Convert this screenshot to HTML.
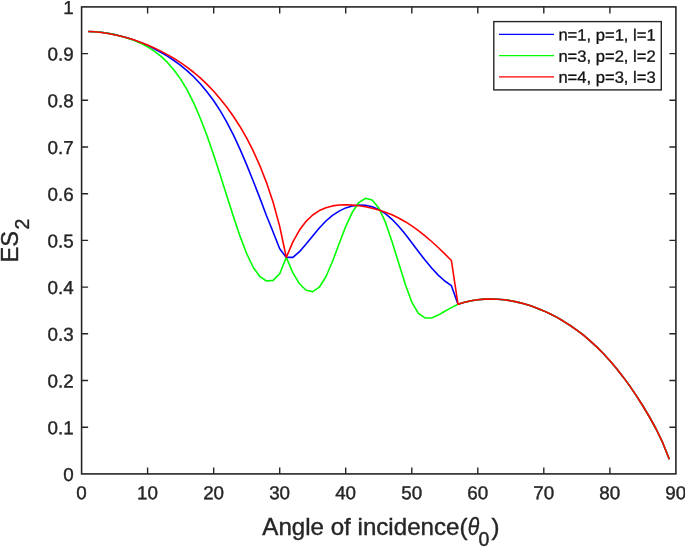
<!DOCTYPE html>
<html><head><meta charset="utf-8"><title>ES2 vs angle of incidence</title>
<style>html,body{margin:0;padding:0;background:#fff}body{width:685px;height:547px;overflow:hidden}</style></head>
<body>
<svg width="685" height="547" viewBox="0 0 685 547" style="display:block">
<rect width="685" height="547" fill="#fff"/>
<polyline fill="none" stroke="#0000ff" stroke-width="1.6" stroke-linejoin="round" points="88.2,31.5 94.8,31.7 101.4,32.3 108.0,33.3 114.6,34.6 121.2,36.2 127.8,38.1 134.4,40.3 141.0,42.8 147.6,45.6 154.2,48.7 160.8,52.2 167.4,56.1 174.0,60.5 180.6,65.3 187.3,70.8 193.9,77.0 200.5,84.0 207.1,91.9 213.7,100.8 220.3,110.9 226.9,122.3 233.5,135.1 240.1,149.4 246.7,164.9 253.3,181.3 259.9,198.1 266.5,215.8 273.1,232.0 279.7,248.7 286.3,257.4 292.9,257.4 299.5,251.7 306.1,244.1 312.7,235.9 319.3,228.0 325.9,221.0 332.5,215.4 339.1,211.1 345.7,207.9 352.3,205.9 358.9,205.1 365.5,205.3 372.1,206.8 378.8,209.5 385.4,213.7 392.0,219.3 398.6,226.2 405.2,234.1 411.8,242.7 418.4,251.5 425.0,260.1 431.6,268.0 438.2,275.1 444.8,281.0 451.4,285.7 458.0,304.3 464.6,302.3 471.2,300.8 477.8,299.8 484.4,299.1 491.0,299.0 497.6,299.2 504.2,299.8 510.8,300.7 517.4,302.1 524.0,303.7 530.6,305.8 537.2,308.2 543.8,310.9 550.4,314.0 557.0,317.4 563.6,321.3 570.2,325.5 576.8,330.1 583.5,335.2 590.1,340.8 596.7,346.9 603.3,353.5 609.9,360.7 616.5,368.5 623.1,376.9 629.7,385.9 636.3,395.6 642.9,406.0 649.5,417.0 656.1,429.0 662.7,442.7 669.3,459.3"/>
<polyline fill="none" stroke="#00ff00" stroke-width="1.6" stroke-linejoin="round" points="88.2,31.5 94.8,31.7 101.4,32.3 108.0,33.3 114.6,34.6 121.2,36.2 127.8,38.2 134.4,40.6 141.0,43.4 147.6,46.9 154.2,51.1 160.8,56.2 167.4,62.4 174.0,70.0 180.6,79.1 187.3,90.2 193.9,103.4 200.5,118.7 207.1,136.0 213.7,155.0 220.3,175.3 226.9,196.2 233.5,216.8 240.1,236.4 246.7,253.7 253.3,267.5 259.9,276.7 266.5,281.0 273.1,280.4 279.7,273.7 286.3,257.4 292.9,272.9 299.5,283.8 306.1,290.2 312.7,291.6 319.3,287.2 325.9,276.8 332.5,261.5 339.1,243.8 345.7,226.6 352.3,212.3 358.9,202.5 365.5,198.3 372.1,200.1 378.8,207.9 385.4,222.2 392.0,241.6 398.6,262.8 405.2,284.1 411.8,302.2 418.4,313.3 425.0,317.9 431.6,318.0 438.2,315.1 444.8,311.2 451.4,307.6 458.0,304.3 464.6,302.3 471.2,300.8 477.8,299.8 484.4,299.1 491.0,299.0 497.6,299.2 504.2,299.8 510.8,300.7 517.4,302.1 524.0,303.7 530.6,305.8 537.2,308.2 543.8,310.9 550.4,314.0 557.0,317.4 563.6,321.3 570.2,325.5 576.8,330.1 583.5,335.2 590.1,340.8 596.7,346.9 603.3,353.5 609.9,360.7 616.5,368.5 623.1,376.9 629.7,385.9 636.3,395.6 642.9,406.0 649.5,417.0 656.1,429.0 662.7,442.7 669.3,459.3"/>
<polyline fill="none" stroke="#ff0000" stroke-width="1.6" stroke-linejoin="round" points="88.2,31.5 94.8,31.8 101.4,32.5 108.0,33.5 114.6,34.8 121.2,36.3 127.8,38.1 134.4,40.1 141.0,42.5 147.6,45.0 154.2,47.9 160.8,51.1 167.4,54.6 174.0,58.4 180.6,62.7 187.3,67.3 193.9,72.5 200.5,78.2 207.1,84.4 213.7,91.3 220.3,98.9 226.9,107.3 233.5,116.5 240.1,126.7 246.7,138.2 253.3,151.1 259.9,165.8 266.5,182.6 273.1,202.2 279.7,226.4 286.3,257.4 292.9,241.9 299.5,230.1 306.1,221.3 312.7,215.0 319.3,210.6 325.9,207.7 332.5,205.9 339.1,205.0 345.7,204.8 352.3,205.1 358.9,205.8 365.5,206.8 372.1,208.2 378.8,210.0 385.4,212.2 392.0,214.8 398.6,218.0 405.2,221.7 411.8,225.9 418.4,230.6 425.0,235.8 431.6,241.5 438.2,247.5 444.8,253.9 451.4,260.5 458.0,304.3 464.6,302.3 471.2,300.8 477.8,299.8 484.4,299.1 491.0,299.0 497.6,299.2 504.2,299.8 510.8,300.7 517.4,302.1 524.0,303.7 530.6,305.8 537.2,308.2 543.8,310.9 550.4,314.0 557.0,317.4 563.6,321.3 570.2,325.5 576.8,330.1 583.5,335.2 590.1,340.8 596.7,346.9 603.3,353.5 609.9,360.7 616.5,368.5 623.1,376.9 629.7,385.9 636.3,395.6 642.9,406.0 649.5,417.0 656.1,429.0 662.7,442.7 669.3,459.3"/>
<rect x="81.6" y="6.9" width="594.3" height="467.0" fill="none" stroke="#262626" stroke-width="1.6"/>
<path d="M147.6 473.9v-6.5M147.6 6.9v6.5M213.7 473.9v-6.5M213.7 6.9v6.5M279.7 473.9v-6.5M279.7 6.9v6.5M345.7 473.9v-6.5M345.7 6.9v6.5M411.8 473.9v-6.5M411.8 6.9v6.5M477.8 473.9v-6.5M477.8 6.9v6.5M543.8 473.9v-6.5M543.8 6.9v6.5M609.9 473.9v-6.5M609.9 6.9v6.5M81.6 427.2h6.5M675.9 427.2h-6.5M81.6 380.5h6.5M675.9 380.5h-6.5M81.6 333.8h6.5M675.9 333.8h-6.5M81.6 287.1h6.5M675.9 287.1h-6.5M81.6 240.4h6.5M675.9 240.4h-6.5M81.6 193.7h6.5M675.9 193.7h-6.5M81.6 147.0h6.5M675.9 147.0h-6.5M81.6 100.3h6.5M675.9 100.3h-6.5M81.6 53.6h6.5M675.9 53.6h-6.5" stroke="#262626" stroke-width="1.4" fill="none"/>
<g font-family="'Liberation Sans', sans-serif" font-size="18.8" fill="#262626" stroke="#262626" stroke-width="0.40">
<text x="81.5" y="499.2" text-anchor="middle" transform="rotate(0.03 81.6 499)">0</text>
<text x="147.5" y="499.2" text-anchor="middle" transform="rotate(0.03 147.6 499)">10</text>
<text x="213.6" y="499.2" text-anchor="middle" transform="rotate(0.03 213.7 499)">20</text>
<text x="279.6" y="499.2" text-anchor="middle" transform="rotate(0.03 279.7 499)">30</text>
<text x="345.6" y="499.2" text-anchor="middle" transform="rotate(0.03 345.7 499)">40</text>
<text x="411.7" y="499.2" text-anchor="middle" transform="rotate(0.03 411.8 499)">50</text>
<text x="477.7" y="499.2" text-anchor="middle" transform="rotate(0.03 477.8 499)">60</text>
<text x="543.7" y="499.2" text-anchor="middle" transform="rotate(0.03 543.8 499)">70</text>
<text x="609.8" y="499.2" text-anchor="middle" transform="rotate(0.03 609.9 499)">80</text>
<text x="675.8" y="499.2" text-anchor="middle" transform="rotate(0.03 675.9 499)">90</text>
<text x="73.6" y="480.9" text-anchor="end" transform="rotate(0.03 73 480.9)">0</text>
<text x="73.6" y="434.2" text-anchor="end" transform="rotate(0.03 73 434.2)">0.1</text>
<text x="73.6" y="387.5" text-anchor="end" transform="rotate(0.03 73 387.5)">0.2</text>
<text x="73.6" y="340.8" text-anchor="end" transform="rotate(0.03 73 340.8)">0.3</text>
<text x="73.6" y="294.1" text-anchor="end" transform="rotate(0.03 73 294.1)">0.4</text>
<text x="73.6" y="247.4" text-anchor="end" transform="rotate(0.03 73 247.4)">0.5</text>
<text x="73.6" y="200.7" text-anchor="end" transform="rotate(0.03 73 200.7)">0.6</text>
<text x="73.6" y="154.0" text-anchor="end" transform="rotate(0.03 73 154.0)">0.7</text>
<text x="73.6" y="107.3" text-anchor="end" transform="rotate(0.03 73 107.3)">0.8</text>
<text x="73.6" y="60.6" text-anchor="end" transform="rotate(0.03 73 60.6)">0.9</text>
<text x="73.6" y="13.9" text-anchor="end" transform="rotate(0.03 73 13.9)">1</text>
</g>
<g font-family="'Liberation Sans', sans-serif" fill="#262626" stroke="#262626" stroke-width="0.40">
<g transform="rotate(0.02 380 534)">
<text x="262.3" y="534.7" font-size="24" textLength="205.2" lengthAdjust="spacingAndGlyphs">Angle of incidence(</text>
<text x="467.8" y="534.7" font-size="24" font-style="italic" textLength="11.5" lengthAdjust="spacingAndGlyphs">θ</text>
<text x="478.6" y="546.1" font-size="19.5">0</text>
<text x="491.5" y="534.6" font-size="24">)</text>
</g>
<g transform="translate(17.9,262.4) rotate(-90)"><text x="0" y="0" font-size="23.8" textLength="31.5" lengthAdjust="spacingAndGlyphs">ES</text><text x="32.9" y="11.2" font-size="19.5">2</text></g>
</g>
<rect x="493.8" y="21.6" width="167.5" height="68.3" fill="#fff" stroke="#262626" stroke-width="1.4"/>
<line x1="499" x2="554" y1="34.4" y2="34.4" stroke="#0000ff" stroke-width="1.3"/>
<line x1="499" x2="554" y1="55.6" y2="55.6" stroke="#00ff00" stroke-width="1.3"/>
<line x1="499" x2="554" y1="76.9" y2="76.9" stroke="#ff0000" stroke-width="1.3"/>
<g font-family="'Liberation Sans', sans-serif" font-size="16.3" fill="#111" stroke="#111" stroke-width="0.3">
<text x="558.4" y="40.4" textLength="97.3" lengthAdjust="spacingAndGlyphs" transform="rotate(0.03 606 40.4)">n=1, p=1, l=1</text>
<text x="558.4" y="61.7" textLength="97.3" lengthAdjust="spacingAndGlyphs" transform="rotate(0.03 606 61.7)">n=3, p=2, l=2</text>
<text x="558.4" y="82.7" textLength="97.3" lengthAdjust="spacingAndGlyphs" transform="rotate(0.03 606 82.7)">n=4, p=3, l=3</text>
</g>
</svg>
</body></html>
